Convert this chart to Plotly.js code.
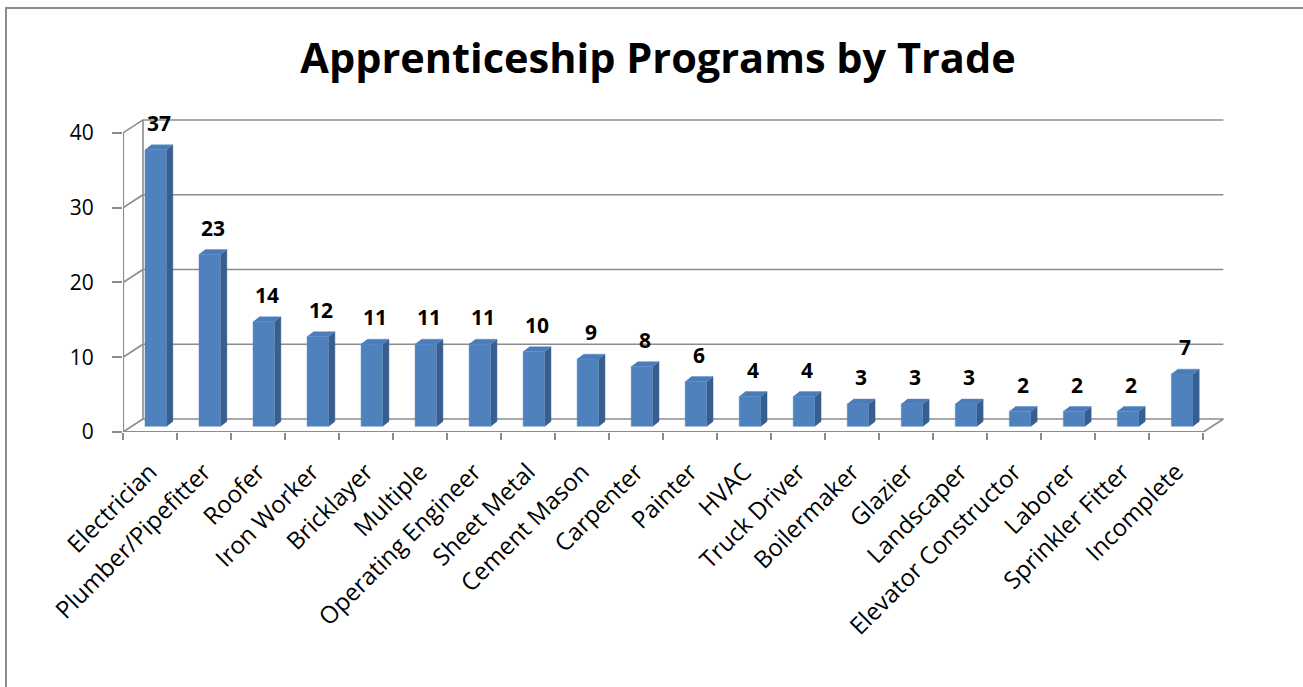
<!DOCTYPE html>
<html>
<head>
<meta charset="utf-8">
<script src="https://cdn.plot.ly/plotly-3.0.1.min.js"></script>
<style>
  html, body { margin:0; padding:0; background:#fff; }
  #frame { position:absolute; left:5px; top:7px; width:1400px; height:800px;
           border-left:2px solid #8c8c8c; border-top:2px solid #8c8c8c; }
  #chart { position:absolute; left:0; top:0; width:1303px; height:687px; }
</style>
</head>
<body>
<div id="frame"></div>
<div id="chart"></div>
<script>
// ---- data ----
const categories = ["Electrician","Plumber/Pipefitter","Roofer","Iron Worker","Bricklayer","Multiple",
  "Operating Engineer","Sheet Metal","Cement Mason","Carpenter","Painter","HVAC","Truck Driver",
  "Boilermaker","Glazier","Landscaper","Elevator Constructor","Laborer","Sprinkler Fitter","Incomplete"];
const counts = [37,23,14,12,11,11,11,10,9,8,6,4,4,3,3,3,2,2,2,7];
const yTicks = [0,10,20,30,40];
const chartTitle = "Apprenticeship Programs by Trade";

// ---- 3D-look geometry (in axis units) ----
const n = categories.length;
const wallDX = 0.37, wallDY = 1.74;      // back wall offset
const barDX = 0.107, barDY = 0.76;       // bar front-face offset from front plane
const barW = 0.40;                        // bar width
const sideDX = 0.115, sideDY = 0.65;     // bar depth

const idx = categories.map((_, i) => i);
const frontTrace = { type:'bar', x: idx.map(i => i + barDX), y: counts, base: barDY, width: barW,
  marker:{ color:'#4f81bd', line:{ color:'#5a8ac4', width:0.5 } }, hoverinfo:'skip', xaxis:'x', yaxis:'y' };

const sx = [], sy = [], tx = [], ty = [];
counts.forEach((v, i) => {
  const xl = i + barDX - barW/2, xr = i + barDX + barW/2, yb = barDY, yt = v + barDY;
  sx.push(xr, xr + sideDX, xr + sideDX, xr, null);
  sy.push(yb, yb + sideDY, yt + sideDY, yt, null);
  tx.push(xl, xr, xr + sideDX, xl + sideDX, null);
  ty.push(yt, yt, yt + sideDY, yt + sideDY, null);
});
const sideTrace = { type:'scatter', mode:'lines', x:sx, y:sy, fill:'toself', fillcolor:'#375e8e',
  line:{ color:'#375e8e', width:0.5 }, hoverinfo:'skip', xaxis:'x', yaxis:'y' };
const topTrace = { type:'scatter', mode:'lines', x:tx, y:ty, fill:'toself', fillcolor:'#4a7cba',
  line:{ color:'#5c8fcc', width:0.5 }, hoverinfo:'skip', xaxis:'x', yaxis:'y' };
const tickHolder = { type:'scatter', mode:'none', x:[-0.5], y:[0], xaxis:'x2', yaxis:'y', hoverinfo:'skip' };

// ---- frame lines (walls, floor, axes) ----
const gridColor = '#8c8c8c';
const shapes = [];
const ymax = yTicks[yTicks.length-1];
const xL = -0.5, xR = n - 0.5;
function ln(x0,y0,x1,y1,w){ shapes.push({type:'line', xref:'x', yref:'y', x0, y0, x1, y1,
  line:{color:gridColor, width:w||1.6}, layer:'below'}); }
yTicks.forEach(t => {
  ln(xL + wallDX, t + wallDY, xR + wallDX, t + wallDY);   // back-wall gridline
  ln(xL, t, xL + wallDX, t + wallDY);                      // side-wall diagonal
});
ln(xL + wallDX, wallDY, xL + wallDX, ymax + wallDY);        // back-left corner
ln(xR, 0, xR + wallDX, wallDY);                              // floor right edge
ln(xL, 0, xR, 0, 2.2);                                       // front x axis
ln(xL, 0, xL, ymax, 2.2);                                    // front y axis

const annotations = counts.map((v, i) => ({
  x: i + barDX + sideDX/2, y: v + barDY + sideDY, xref:'x', yref:'y', text: String(v),
  showarrow:false, yanchor:'bottom', yshift:6,
  font:{ family:'Open Sans, sans-serif', size:21, color:'#000', weight:700 }
}));

const pxPerUnitX = 54, leftPx = 123;
const xRange = [xL, xR + 0.4];
const plotW = (xRange[1] - xRange[0]) * pxPerUnitX;
const zeroPx = 431.7, pxPerUnitY = 7.475, yRange = [0, 42];
const topPx = zeroPx - yRange[1] * pxPerUnitY;

const layout = {
  width:1303, height:687,
  paper_bgcolor:'rgba(0,0,0,0)', plot_bgcolor:'rgba(0,0,0,0)',
  margin:{ l:leftPx, r:1303 - leftPx - plotW, t:topPx, b:687 - zeroPx, pad:0 },
  showlegend:false,
  title:{ text: chartTitle, x:658/1303, xanchor:'center', y:1 - 58/687, yanchor:'middle', yref:'container',
    font:{ family:'Open Sans, sans-serif', size:41.5, color:'#000', weight:700 } },
  xaxis:{ range:xRange, tickmode:'array', tickvals: idx, ticktext: categories, tickangle:-45,
    ticks:'', showgrid:false, zeroline:false, showline:false, ticklabelstandoff:20,
    tickfont:{ family:'Open Sans, sans-serif', size:24, color:'#000' } },
  xaxis2:{ overlaying:'x', range:xRange, tickmode:'array',
    tickvals: Array.from({length:n+1}, (_, k) => k - 0.5), showticklabels:false,
    ticks:'outside', ticklen:7, tickwidth:2, tickcolor:gridColor, showgrid:false, zeroline:false, showline:false },
  yaxis:{ range:yRange, tickmode:'array', tickvals:yTicks, ticks:'outside', ticklen:10, tickwidth:2,
    tickcolor:gridColor, showgrid:false, zeroline:false, showline:false, ticklabelstandoff:14,
    tickfont:{ family:'Open Sans, sans-serif', size:21, color:'#000' } },
  shapes, annotations
};

Plotly.newPlot('chart', [sideTrace, topTrace, frontTrace, tickHolder], layout, { staticPlot:true, displayModeBar:false });
</script>
</body>
</html>
